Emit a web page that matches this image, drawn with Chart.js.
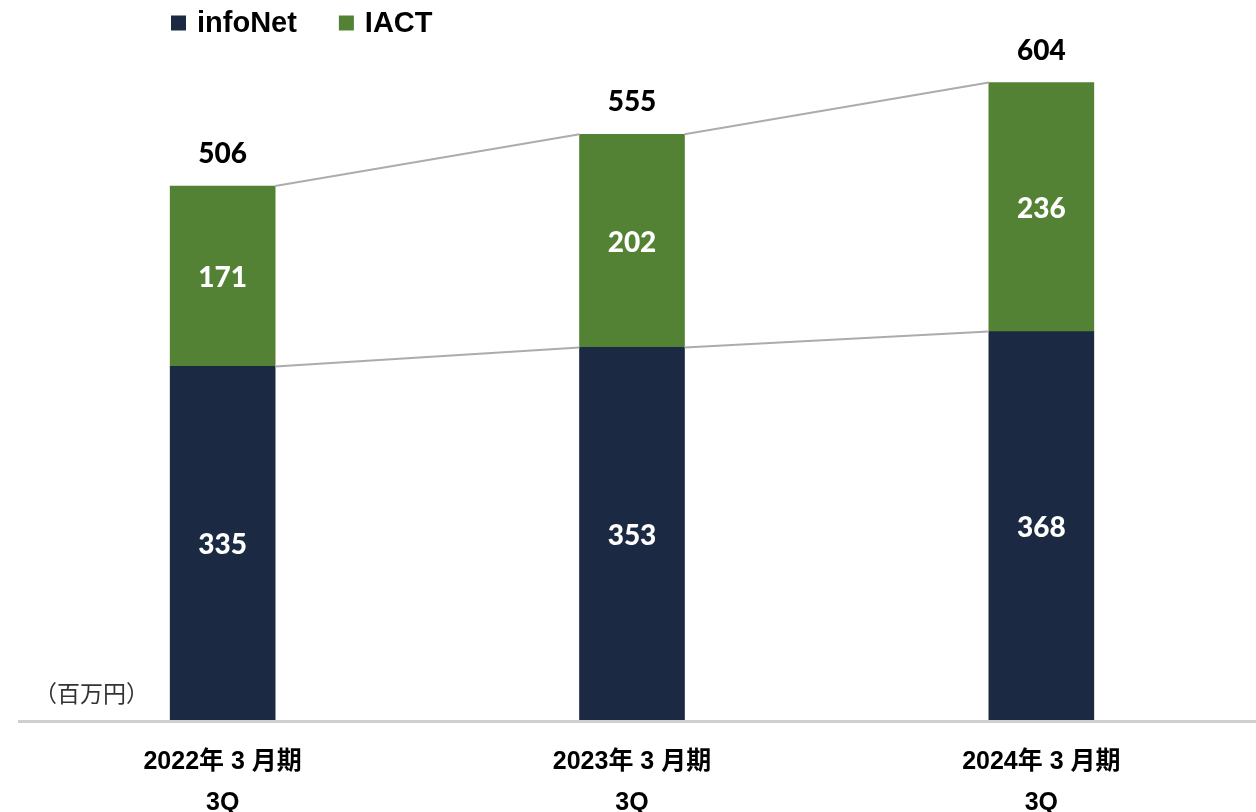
<!DOCTYPE html>
<html>
<head>
<meta charset="utf-8">
<script src="https://cdn.jsdelivr.net/npm/chart.js@4.4.1/dist/chart.umd.min.js"></script>
<style>
  html, body { margin: 0; padding: 0; background: #ffffff; }
  #wrap { width: 1256px; height: 812px; position: relative; }
</style>
</head>
<body>
<div id="wrap"><canvas id="c" width="1256" height="812"></canvas></div>
<script>
const periodLabels = ['2022年 3 月期', '2023年 3 月期', '2024年 3 月期'];
const quarterLabels = ['3Q', '3Q', '3Q'];
const infoNetValues = [335, 353, 368];
const iactValues = [171, 202, 236];
const totalValues = [506, 555, 604];
const seriesNames = ['infoNet', 'IACT'];
const unitLabel = '（百万円）';

const NAVY = '#1b2a42';
const GREEN = '#548235';
const NUM_FONT = "900 28px Lato, 'Liberation Sans', sans-serif";
const LEGEND_FONT = "bold 29px 'Liberation Sans', Arial, sans-serif";

const overlayPlugin = {
  id: 'overlay',
  afterDatasetsDraw(chart) {
    const ctx = chart.ctx;
    const m0 = chart.getDatasetMeta(0).data;
    const m1 = chart.getDatasetMeta(1).data;
    ctx.save();
    // baseline
    ctx.strokeStyle = '#cfcfcf';
    ctx.lineWidth = 3;
    ctx.beginPath();
    ctx.moveTo(18, chart.chartArea.bottom + 1.5);
    ctx.lineTo(1256, chart.chartArea.bottom + 1.5);
    ctx.stroke();
    // connector lines
    ctx.strokeStyle = '#acacac';
    ctx.lineWidth = 2;
    [m0, m1].forEach(meta => {
      for (let i = 0; i < meta.length - 1; i++) {
        const a = meta[i], b = meta[i + 1];
        ctx.beginPath();
        ctx.moveTo(a.x + a.width / 2, a.y);
        ctx.lineTo(b.x - b.width / 2, b.y);
        ctx.stroke();
      }
    });
    // segment labels
    ctx.font = NUM_FONT;
    ctx.textAlign = 'center';
    ctx.textBaseline = 'middle';
    ctx.fillStyle = '#ffffff';
    [[m0, infoNetValues], [m1, iactValues]].forEach(([meta, vals]) => {
      meta.forEach((el, i) => {
        ctx.fillText(String(vals[i]), el.x, (el.y + el.base) / 2 + 2);
      });
    });
    // totals
    ctx.fillStyle = '#000000';
    m1.forEach((el, i) => {
      ctx.fillText(String(totalValues[i]), el.x, el.y - 32);
    });
    // legend
    ctx.font = LEGEND_FONT;
    ctx.textAlign = 'left';
    let lx = 171;
    const ly = 23;
    chart.data.datasets.forEach((ds, i) => {
      ctx.fillStyle = ds.backgroundColor;
      ctx.fillRect(lx, ly - 7.5, 15, 15);
      ctx.fillStyle = '#000000';
      ctx.fillText(ds.label, lx + 26, ly + 1);
      lx += 26 + ctx.measureText(ds.label).width + 42;
    });
    // unit label
    ctx.font = "23px 'Noto Sans CJK JP', sans-serif";
    ctx.fillStyle = '#333333';
    ctx.textAlign = 'left';
    ctx.fillText(unitLabel, 34, 693);
    ctx.restore();
  }
};

new Chart(document.getElementById('c'), {
  type: 'bar',
  data: {
    labels: periodLabels.map((p, i) => [p, quarterLabels[i]]),
    datasets: [
      { label: seriesNames[0], data: infoNetValues, backgroundColor: NAVY },
      { label: seriesNames[1], data: iactValues, backgroundColor: GREEN }
    ]
  },
  options: {
    responsive: false,
    animation: false,
    devicePixelRatio: 1,
    layout: { padding: { left: 18, right: 10, top: 34, bottom: 0 } },
    plugins: { legend: { display: false }, tooltip: { enabled: false } },
    datasets: { bar: { barThickness: 105, borderWidth: 0 } },
    scales: {
      x: {
        stacked: true,
        grid: { display: false, drawTicks: false },
        border: { display: false },
        afterFit: (scale) => { scale.height = 92; },
        ticks: {
          color: '#000000',
          padding: 22,
          maxRotation: 0,
          autoSkip: false,
          font: { family: "'Liberation Sans', 'Noto Sans CJK JP', sans-serif", size: 25, weight: 'bold', lineHeight: 1.62 }
        }
      },
      y: {
        stacked: true,
        display: false,
        min: 0,
        max: 650
      }
    }
  },
  plugins: [overlayPlugin]
});
</script>
</body>
</html>
